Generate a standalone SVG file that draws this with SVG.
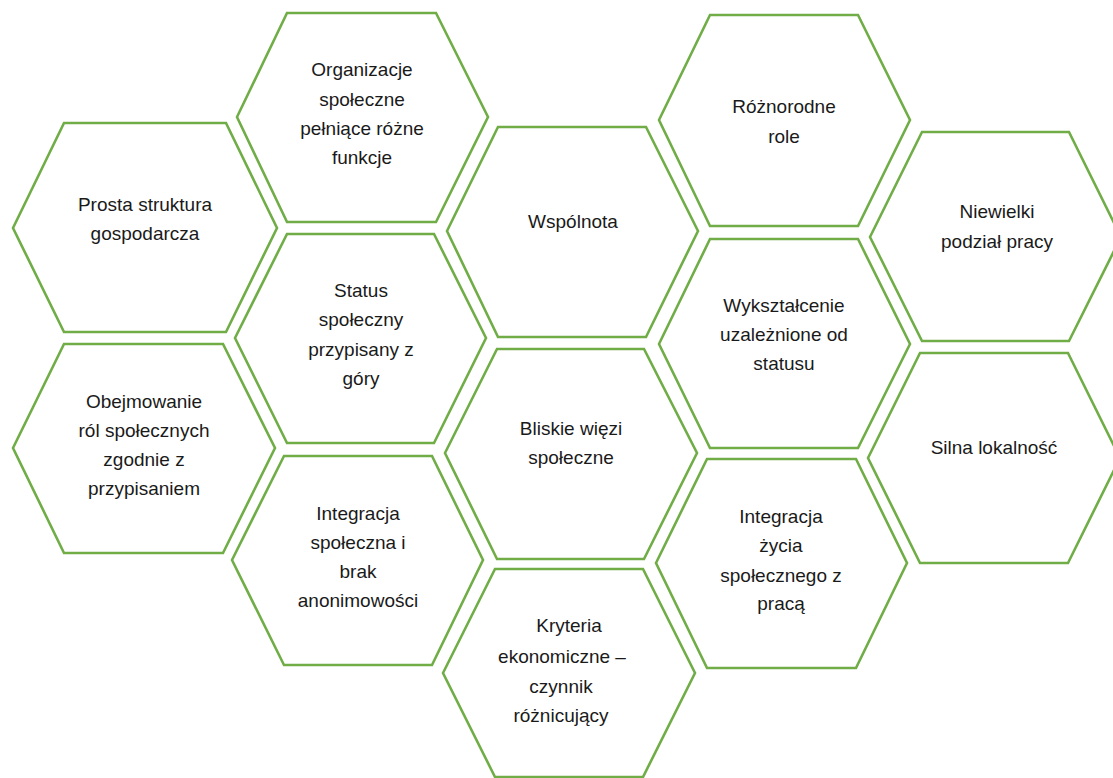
<svg xmlns="http://www.w3.org/2000/svg" width="1113" height="778" viewBox="0 0 1113 778">
<style>
.hex{fill:#ffffff;stroke:#70AD47;stroke-width:2.6;stroke-linejoin:miter}
.t{font-family:"Liberation Sans",Arial,sans-serif;font-size:19px;fill:#1a1a1a;text-anchor:middle}
</style>
<rect width="1113" height="778" fill="#ffffff"/>
<g id="connectors"></g>
<g id="n1"><polygon class="hex" points="237,117 287,13 436,13 488,117 436,222 287,222"/>
<text class="t"><tspan x="362" y="76">Organizacje</tspan><tspan x="362" y="106">społeczne</tspan><tspan x="362" y="135">pełniące różne</tspan><tspan x="362" y="164">funkcje</tspan></text></g>
<g id="n2"><polygon class="hex" points="13,228 64,123 226,123 277,228 226,332 64,332"/>
<text class="t"><tspan x="145" y="211">Prosta struktura</tspan><tspan x="145" y="240">gospodarcza</tspan></text></g>
<g id="n3"><polygon class="hex" points="235,338 287,234 434,234 486,338 434,443 287,443"/>
<text class="t"><tspan x="361" y="297">Status</tspan><tspan x="361" y="326">społeczny</tspan><tspan x="361" y="356">przypisany z</tspan><tspan x="361" y="385">góry</tspan></text></g>
<g id="n4"><polygon class="hex" points="13,448 64,344 223,344 275,448 223,553 64,553"/>
<text class="t"><tspan x="144" y="408">Obejmowanie</tspan><tspan x="144" y="437">ról społecznych</tspan><tspan x="144" y="466">zgodnie z</tspan><tspan x="144" y="495">przypisaniem</tspan></text></g>
<g id="n5"><polygon class="hex" points="232,560 284,456 432,456 483,560 432,665 284,665"/>
<text class="t"><tspan x="358" y="520">Integracja</tspan><tspan x="358" y="549">społeczna i</tspan><tspan x="358" y="578">brak</tspan><tspan x="358" y="607">anonimowości</tspan></text></g>
<g id="n6"><polygon class="hex" points="447,231 498,127 646,127 698,231 646,337 498,337"/>
<text class="t"><tspan x="573" y="228">Wspólnota</tspan></text></g>
<g id="n7"><polygon class="hex" points="445,453 497,349 644,349 697,453 644,559 497,559"/>
<text class="t"><tspan x="571" y="435">Bliskie więzi</tspan><tspan x="571" y="464">społeczne</tspan></text></g>
<g id="n8"><polygon class="hex" points="443,673 495,569 643,569 695,673 643,777 495,777"/>
<text class="t"><tspan x="569" y="632">Kryteria</tspan><tspan x="562" y="663">ekonomiczne –</tspan><tspan x="561" y="693">czynnik</tspan><tspan x="561" y="722">różnicujący</tspan></text></g>
<g id="n9"><polygon class="hex" points="659,120 710,15 858,15 910,120 858,226 710,226"/>
<text class="t"><tspan x="784" y="113">Różnorodne</tspan><tspan x="784" y="143">role</tspan></text></g>
<g id="n10"><polygon class="hex" points="659,344 710,239 858,239 910,344 858,448 710,448"/>
<text class="t"><tspan x="784" y="312">Wykształcenie</tspan><tspan x="784" y="341">uzależnione od</tspan><tspan x="784" y="370">statusu</tspan></text></g>
<g id="n11"><polygon class="hex" points="656,563 707,459 856,459 907,563 856,668 707,668"/>
<text class="t"><tspan x="781" y="523">Integracja</tspan><tspan x="781" y="552">życia</tspan><tspan x="781" y="582">społecznego z</tspan><tspan x="781" y="610">pracą</tspan></text></g>
<g id="n12"><polygon class="hex" points="870,237 922,132 1069,132 1121,237 1069,341 922,341"/>
<text class="t"><tspan x="997" y="218">Niewielki</tspan><tspan x="997" y="248">podział pracy</tspan></text></g>
<g id="n13"><polygon class="hex" points="868,458 920,353 1068,353 1120,458 1068,563 920,563"/>
<text class="t"><tspan x="994" y="454">Silna lokalność</tspan></text></g>
</svg>
